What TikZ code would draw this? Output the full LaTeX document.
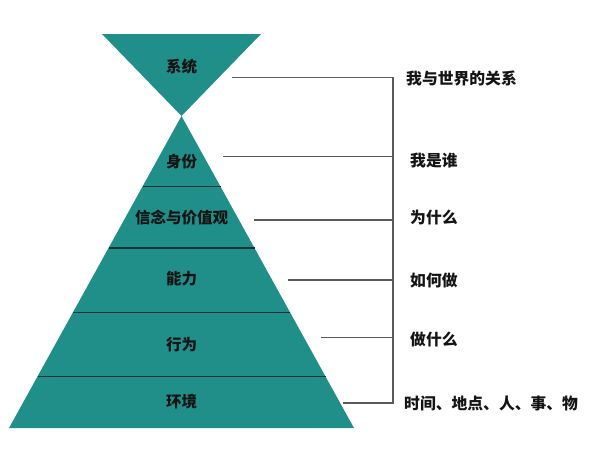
\documentclass[tikz,border=0pt]{standalone}
\usepackage{fontspec}
\newfontfamily\cjk{Noto Sans CJK SC}
\definecolor{teal1}{RGB}{33,143,137}
\definecolor{divc}{RGB}{20,50,50}
\definecolor{conc}{RGB}{90,90,90}
\definecolor{txtc}{RGB}{20,20,20}
\begin{document}
\begin{tikzpicture}[x=1pt,y=-1pt,
  lbl/.style={font=\cjk\bfseries\fontsize{15.5}{17}\selectfont, text=txtc, inner sep=0pt},
  rlbl/.style={lbl, anchor=west, font=\cjk\bfseries\fontsize{15.8}{17}\selectfont},
  divline/.style={draw=divc, line width=1.2pt},
  conline/.style={draw=conc, line width=1.1pt}]
\useasboundingbox (0,0) rectangle (612,459);
% shapes
\fill[teal1] (102,34) -- (261,34) -- (181.5,116) -- cycle;
\fill[teal1] (181.5,116) -- (354,428) -- (9,428) -- cycle;
% dividers
\draw[divline] (142.5,186.7) -- (220.5,186.7);
\draw[divline] (108.5,248) -- (254.5,248);
\draw[divline] (73,312.3) -- (290,312.3);
\draw[divline] (37.5,376.7) -- (325.5,376.7);
% pyramid labels
\node[lbl] (xt) at (181.5,67) {系统};
\node[lbl] (sf) at (181.5,162) {身份};
\node[lbl] (xn) at (181.5,218) {信念与价值观};
\node[lbl] (nl) at (181.5,279) {能力};
\node[lbl] (xw) at (181.5,345) {行为};
\node[lbl] (hj) at (181.5,402) {环境};
% right labels
\node[rlbl] (r1) at (406,78) {我与世界的关系};
\node[rlbl] (r2) at (410,161) {我是谁};
\node[rlbl] (r3) at (410,218) {为什么};
\node[rlbl] (r4) at (410,280) {如何做};
\node[rlbl] (r5) at (410,339) {做什么};
\node[rlbl] (r6) at (404,404) {时间、地点、人、事、物};
% connector coordinates
\coordinate (s1) at (232,77.3);
\coordinate (s2) at (223,156.7);
\coordinate (s3) at (254,220);
\coordinate (s4) at (288,280);
\coordinate (s5) at (320.7,337.7);
\coordinate (s6) at (342.7,403);
\coordinate (b1) at (393,77.3);
\coordinate (b2) at (393,156.7);
\coordinate (b3) at (393,220);
\coordinate (b4) at (393,280);
\coordinate (b5) at (393,337.7);
\coordinate (b6) at (393,403);
\draw[conline] (s1) -- (b1) -- (b6) -- (s6);
\draw[conline] (s2) -- (b2);
\draw[conline] (s3) -- (b3);
\draw[conline] (s4) -- (b4);
\draw[conline] (s5) -- (b5);
\end{tikzpicture}
\end{document}
